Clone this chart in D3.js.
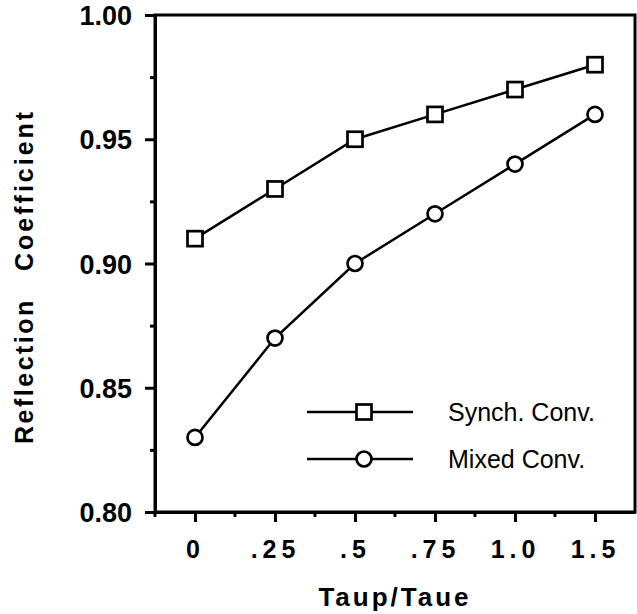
<!DOCTYPE html>
<html>
<head>
<meta charset="utf-8">
<script src="https://cdn.jsdelivr.net/npm/d3@7"></script>
<style>
  html, body { margin: 0; padding: 0; background: #fff; }
  svg { display: block; }
</style>
</head>
<body>
<div id="chart"></div>
<script>
// Data
const categories = ['0', '.25', '.5', '.75', '1.0', '1.5'];
const synchConv = [0.91, 0.93, 0.95, 0.96, 0.97, 0.98];
const mixedConv = [0.83, 0.87, 0.90, 0.92, 0.94, 0.96];
const yMajorTicks = [0.80, 0.85, 0.90, 0.95, 1.00];
const yMinorTicks = [0.825, 0.875, 0.925, 0.975];
const seriesNames = ['Synch. Conv.', 'Mixed Conv.'];

const FONT = '"Liberation Sans", Arial, Helvetica, sans-serif';

// Dimensions
const svgWidth = 637, svgHeight = 614;
const margin = { top: 15, right: 2, bottom: 102, left: 155 };
const width = svgWidth - margin.left - margin.right;
const height = svgHeight - margin.top - margin.bottom;

const svg = d3.select('#chart')
    .append('svg')
    .attr('width', svgWidth)
    .attr('height', svgHeight);

const chart = svg.append('g')
    .attr('transform', `translate(${margin.left}, ${margin.top})`);

// Scales
const xScale = d3.scalePoint()
    .domain(categories)
    .range([0, width])
    .padding(0.5);

const yScale = d3.scaleLinear()
    .domain([0.80, 1.00])
    .range([height, 0]);

const step = xScale.step();

// Frame (top and right sides)
chart.append('rect')
    .attr('x', 0)
    .attr('y', 0)
    .attr('width', width)
    .attr('height', height)
    .attr('fill', 'none')
    .attr('stroke', '#000')
    .attr('stroke-width', 3);

// Y axis, major ticks with labels
const yAxis = chart.append('g')
    .call(d3.axisLeft(yScale)
        .tickValues(yMajorTicks)
        .tickSize(10)
        .tickSizeOuter(0)
        .tickPadding(13)
        .tickFormat(d3.format('.2f')));

yAxis.attr('font-family', FONT)
    .attr('font-size', 27)
    .attr('font-weight', 'bold');
yAxis.selectAll('line').attr('stroke-width', 3);
yAxis.select('.domain').attr('stroke-width', 3);
yAxis.selectAll('text').attr('dy', '0.36em').attr('fill', '#000');

// Y axis minor ticks
const yMinor = chart.append('g')
    .call(d3.axisLeft(yScale)
        .tickValues(yMinorTicks)
        .tickSize(5)
        .tickSizeOuter(0)
        .tickFormat(''));
yMinor.select('.domain').remove();
yMinor.selectAll('line').attr('stroke-width', 3);

// X axis, major ticks with labels
const xAxis = chart.append('g')
    .attr('transform', `translate(0, ${height})`)
    .call(d3.axisBottom(xScale)
        .tickSize(10)
        .tickSizeOuter(0));

xAxis.attr('font-family', FONT)
    .attr('font-size', 25)
    .attr('font-weight', 'bold');
xAxis.select('.domain').attr('stroke-width', 3);
xAxis.selectAll('line').attr('stroke-width', 3);
xAxis.selectAll('text')
    .attr('y', 46)
    .attr('dy', 0)
    .attr('fill', '#000')
    .style('letter-spacing', '5px');

// X axis minor ticks between categories
chart.append('g')
    .attr('transform', `translate(0, ${height})`)
    .selectAll('line')
    .data(categories)
    .enter()
    .append('line')
    .attr('x1', d => xScale(d) - step / 2)
    .attr('x2', d => xScale(d) - step / 2)
    .attr('y1', 0)
    .attr('y2', 5)
    .attr('stroke', '#000')
    .attr('stroke-width', 3);

// Axis titles
svg.append('text')
    .attr('x', margin.left + width / 2)
    .attr('y', 606)
    .attr('text-anchor', 'middle')
    .attr('font-family', FONT)
    .attr('font-size', 26)
    .attr('font-weight', 'bold')
    .style('letter-spacing', '3px')
    .text('Taup/Taue');

svg.append('text')
    .attr('transform', 'translate(33, 444) rotate(-90)')
    .attr('font-family', FONT)
    .attr('font-size', 25)
    .attr('font-weight', 'bold')
    .style('letter-spacing', '2.5px')
    .text('Reflection');

svg.append('text')
    .attr('transform', 'translate(33, 271) rotate(-90)')
    .attr('font-family', FONT)
    .attr('font-size', 25)
    .attr('font-weight', 'bold')
    .style('letter-spacing', '3px')
    .text('Coefficient');

// Lines
const line = d3.line()
    .x((d, i) => xScale(categories[i]))
    .y(d => yScale(d));

chart.append('path')
    .datum(synchConv)
    .attr('d', line)
    .attr('fill', 'none')
    .attr('stroke', '#000')
    .attr('stroke-width', 2.5);

chart.append('path')
    .datum(mixedConv)
    .attr('d', line)
    .attr('fill', 'none')
    .attr('stroke', '#000')
    .attr('stroke-width', 2.5);

// Markers
const sq = 15;
chart.selectAll('.mark-synch')
    .data(synchConv)
    .enter()
    .append('rect')
    .attr('class', 'mark-synch')
    .attr('x', (d, i) => xScale(categories[i]) - sq / 2)
    .attr('y', d => yScale(d) - sq / 2)
    .attr('width', sq)
    .attr('height', sq)
    .attr('fill', '#fff')
    .attr('stroke', '#000')
    .attr('stroke-width', 2.7);

chart.selectAll('.mark-mixed')
    .data(mixedConv)
    .enter()
    .append('circle')
    .attr('class', 'mark-mixed')
    .attr('cx', (d, i) => xScale(categories[i]))
    .attr('cy', d => yScale(d))
    .attr('r', 7.5)
    .attr('fill', '#fff')
    .attr('stroke', '#000')
    .attr('stroke-width', 2.7);

// Legend
const legend = svg.append('g')
    .attr('transform', 'translate(307, 412)');

seriesNames.forEach((name, i) => {
    const g = legend.append('g')
        .attr('transform', `translate(0, ${i * 47})`);
    g.append('line')
        .attr('x1', 0)
        .attr('x2', 106)
        .attr('y1', 0)
        .attr('y2', 0)
        .attr('stroke', '#000')
        .attr('stroke-width', 2.5);
    if (i === 0) {
        g.append('rect')
            .attr('x', 57 - sq / 2)
            .attr('y', -sq / 2)
            .attr('width', sq)
            .attr('height', sq)
            .attr('fill', '#fff')
            .attr('stroke', '#000')
            .attr('stroke-width', 2.7);
    } else {
        g.append('circle')
            .attr('cx', 57)
            .attr('cy', 0)
            .attr('r', 7.5)
            .attr('fill', '#fff')
            .attr('stroke', '#000')
            .attr('stroke-width', 2.7);
    }
    g.append('text')
        .attr('x', 141)
        .attr('y', 0)
        .attr('dy', '0.36em')
        .attr('font-family', FONT)
        .attr('font-size', 25)
        .text(name);
});
</script>
</body>
</html>
